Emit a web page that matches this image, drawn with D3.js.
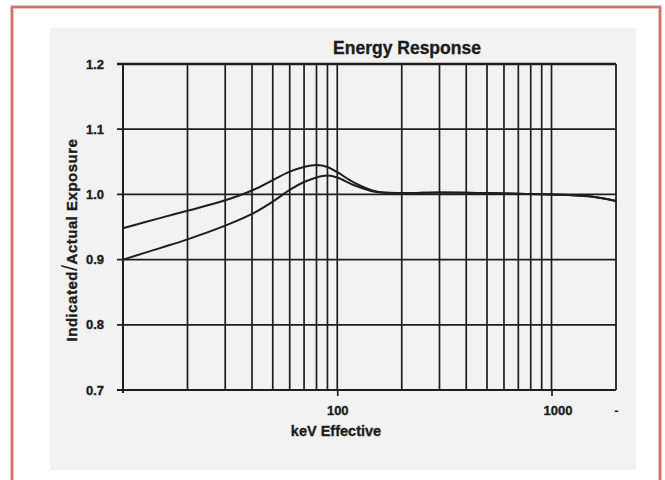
<!DOCTYPE html>
<html>
<head>
<meta charset="utf-8">
<script src="https://cdn.jsdelivr.net/npm/d3@7/dist/d3.min.js"></script>
<style>
  html, body { margin: 0; padding: 0; background: #ffffff; }
  svg { display: block; }
  text { font-family: "Liberation Sans", Arial, sans-serif; font-weight: bold; fill: #1c1c1c; }
</style>
</head>
<body>
<svg id="chart" width="665" height="480"></svg>
<script>
// ---- data ----
const energies = [10, 15, 20, 30, 40, 50, 60, 70, 80, 90, 100, 120, 150, 200, 300, 500, 700, 1000, 1500, 2000];
const upperResponse = [0.948, 0.964, 0.975, 0.991, 1.006, 1.022, 1.035, 1.042, 1.045, 1.042, 1.034, 1.018, 1.005, 1.002, 1.003, 1.002, 1.001, 1.000, 0.997, 0.990];
const lowerResponse = [0.900, 0.918, 0.931, 0.952, 0.970, 0.989, 1.007, 1.019, 1.026, 1.029, 1.026, 1.014, 1.004, 1.002, 1.003, 1.002, 1.001, 1.000, 0.997, 0.990];
const xGridValues = [20, 30, 40, 50, 60, 70, 80, 90, 100, 200, 300, 400, 500, 600, 700, 800, 900, 1000];
const xTickValues = [100, 1000, 2000];
const xTickLabels = ["100", "1000", "-"];
const yTickValues = [0.7, 0.8, 0.9, 1.0, 1.1, 1.2];
const yTickLabels = ["0.7", "0.8", "0.9", "1.0", "1.1", "1.2"];
const chartTitle = "Energy Response";
const xTitle = "keV Effective";
const yTitleParts = ["Indicated", "/", "Actual Exposure"];

// ---- layout ----
const svg = d3.select("#chart");
const W = 665, H = 480;
const plot = { left: 123, right: 616, top: 64, bottom: 390 };

svg.append("rect").attr("x", 0).attr("y", 0).attr("width", W).attr("height", H).attr("fill", "#ffffff");
// scanned-page panel
svg.append("rect").attr("x", 50).attr("y", 28).attr("width", 586).attr("height", 442).attr("fill", "#f2f2f2");
// red frame
svg.append("rect").attr("x", 12).attr("y", 7).attr("width", 648).attr("height", 490)
  .attr("fill", "none").attr("stroke", "#f0c4bc").attr("stroke-width", 4);
svg.append("rect").attr("x", 12).attr("y", 7).attr("width", 648).attr("height", 490)
  .attr("fill", "none").attr("stroke", "#c96a5e").attr("stroke-width", 1.8);

const x = d3.scaleLog().domain([10, 2000]).range([plot.left, plot.right]);
const y = d3.scaleLinear().domain([0.7, 1.2]).range([plot.bottom, plot.top]);

const ink = "#1e1e1e";

// vertical grid lines
svg.append("g").selectAll("line").data(xGridValues).join("line")
  .attr("x1", d => x(d)).attr("x2", d => x(d))
  .attr("y1", y(1.2)).attr("y2", y(0.7))
  .attr("stroke", ink).attr("stroke-width", 1.7);

// horizontal grid lines (with small ticks to the left)
svg.append("g").selectAll("line").data(yTickValues).join("line")
  .attr("x1", plot.left - 6).attr("x2", plot.right)
  .attr("y1", d => y(d)).attr("y2", d => y(d))
  .attr("stroke", ink).attr("stroke-width", d => d === 1.2 ? 2.6 : 1.8);

// plot frame sides
svg.append("line").attr("x1", plot.left).attr("x2", plot.left).attr("y1", y(1.2)).attr("y2", y(0.7) + 3)
  .attr("stroke", ink).attr("stroke-width", 2);
svg.append("line").attr("x1", plot.right).attr("x2", plot.right).attr("y1", y(1.2)).attr("y2", y(0.7))
  .attr("stroke", ink).attr("stroke-width", 1.8);

const boldText = sel => sel.attr("font-family", "Liberation Sans, Arial, sans-serif")
  .attr("font-weight", "bold").attr("stroke", "#1c1c1c").attr("stroke-width", 0.35);

// x axis ticks + labels
const xAxis = d3.axisBottom(x).tickValues(xTickValues).tickSize(6)
  .tickFormat((d, i) => xTickLabels[i]);
const gx = svg.append("g").attr("transform", `translate(0,${plot.bottom})`).call(xAxis);
gx.select(".domain").remove();
gx.selectAll(".tick line").attr("stroke", ink).attr("stroke-width", 1.7)
  .attr("opacity", (d, i) => xTickLabels[i] === "-" ? 0 : 1);
gx.selectAll(".tick text")
  .attr("y", 16).attr("font-size", 13)
  .call(boldText)
  .attr("fill", (d, i) => xTickLabels[i] === "-" ? "#9a9a9a" : "#1c1c1c")
  .attr("stroke", (d, i) => xTickLabels[i] === "-" ? "none" : "#1c1c1c")
  .attr("dx", (d, i) => i === 1 ? 6 : 0);

// y axis labels
const yAxis = d3.axisLeft(y).tickValues(yTickValues).tickSize(0)
  .tickFormat((d, i) => yTickLabels[i]);
const gy = svg.append("g").attr("transform", `translate(${plot.left - 19},0)`).call(yAxis);
gy.select(".domain").remove();
gy.selectAll(".tick text")
  .attr("x", 0).attr("font-size", 13).call(boldText).attr("fill", "#1c1c1c");

// curves
const line = d3.line().x(d => x(d[0])).y(d => y(d[1])).curve(d3.curveCatmullRom.alpha(0.5));
[upperResponse, lowerResponse].forEach(series => {
  svg.append("path")
    .datum(energies.map((e, i) => [e, series[i]]))
    .attr("d", line)
    .attr("fill", "none").attr("stroke", ink).attr("stroke-width", 2);
});

// titles
svg.append("text").attr("x", 407).attr("y", 54).attr("text-anchor", "middle")
  .attr("font-size", 17.5).call(boldText).text(chartTitle);
svg.append("text").attr("x", 336).attr("y", 436).attr("text-anchor", "middle")
  .attr("font-size", 14.5).call(boldText).text(xTitle);
const yt = svg.append("text").attr("transform", "translate(77,240) rotate(-90)").attr("text-anchor", "middle")
  .attr("font-size", 15).attr("letter-spacing", 0.5).call(boldText);
yt.selectAll("tspan").data(yTitleParts).join("tspan")
  .attr("font-size", (d, i) => i === 1 ? 22 : 15)
  .attr("font-weight", (d, i) => i === 1 ? "normal" : "bold")
  .attr("stroke-width", (d, i) => i === 1 ? 0 : 0.35)
  .text(d => d);
</script>
</body>
</html>
